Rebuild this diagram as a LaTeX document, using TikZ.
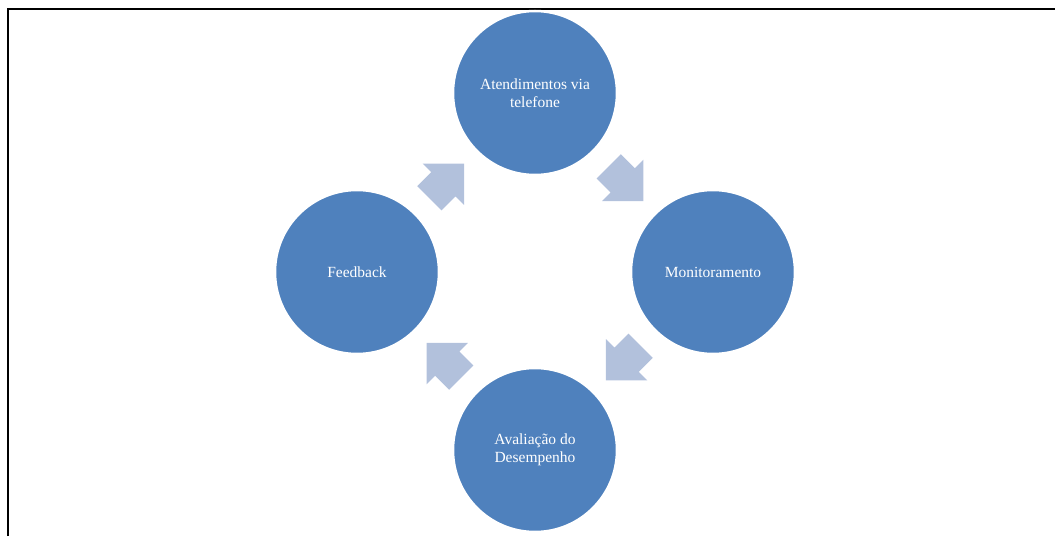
\documentclass[tikz,border=0pt]{standalone}
\usepackage{fontspec}
\setmainfont{Liberation Serif}
\usetikzlibrary{shapes.arrows}

\definecolor{stageblue}{HTML}{4F81BD}
\definecolor{arrowblue}{RGB}{178,193,220}

\begin{document}
\begin{tikzpicture}[
    x=1pt, y=1pt,
    stage/.style={circle, fill=stageblue, draw=white, line width=2.5pt, minimum size=164pt, inner sep=0pt,
      text=white, align=center, font=\fontsize{15.5}{17.5}\selectfont},
    cyclearrow/.style={single arrow, fill=arrowblue, draw=none, inner xsep=0pt, inner ysep=17pt,
      minimum height=49pt, single arrow head extend=12pt, single arrow tip angle=90}
    ]
    \useasboundingbox (-535,-264) rectangle (520,272);
    % moldura
    \draw[line width=2pt] (-527,-264) -- (-527,262.5) -- (520,262.5);

    \node (atend) [stage] at (90:179) {Atendimentos via\\telefone};
    \node (monit) [stage] at (0:178) {Monitoramento};
    \node (aval) [stage] at (270:178) {Avalia\c{c}\~ao do\\Desempenho};
    \node (feed) [stage] at (180:178) {Feedback};

    \node (arr1) [cyclearrow, rotate=-45] at (48:127) {};
    \node (arr2) [cyclearrow, rotate=-135] at (-42:127) {};
    \node (arr3) [cyclearrow, rotate=135] at (-132:127) {};
    \node (arr4) [cyclearrow, rotate=45] at (138:127) {};
\end{tikzpicture}
\end{document}
